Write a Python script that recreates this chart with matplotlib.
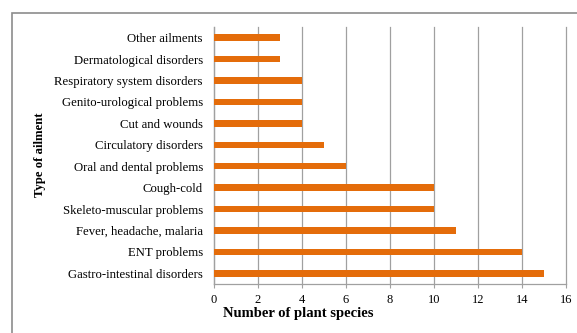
import matplotlib.pyplot as plt
from matplotlib.patches import Rectangle

# ---------- Data ----------
ailments = ['Gastro-intestinal disorders', 'ENT problems', 'Fever, headache, malaria',
            'Skeleto-muscular problems', 'Cough-cold', 'Oral and dental problems',
            'Circulatory disorders', 'Cut and wounds', 'Genito-urological problems',
            'Respiratory system disorders', 'Dermatological disorders', 'Other ailments']
species = [15, 14, 11, 10, 10, 6, 5, 4, 4, 4, 3, 3]
x_ticks = [0, 2, 4, 6, 8, 10, 12, 14, 16]

plt.rcParams['font.family'] = ['Liberation Serif', 'DejaVu Serif']

fig = plt.figure(figsize=(5.77, 3.33), dpi=100)
ax = fig.add_axes([214 / 577, 1 - 284 / 333, 352 / 577, 257 / 333])

# outer frame
fig.patches.append(Rectangle((12 / 577, -0.2), 1.2, 1 - 13 / 333 + 0.2,
                             transform=fig.transFigure, fill=False,
                             edgecolor='#8c8c8c', linewidth=1.2))

ax.barh(range(len(ailments)), species, height=0.3, color='#E46C0A', zorder=3)

ax.set_xlim(0, 16)
ax.set_ylim(-0.5, len(ailments) - 0.5)
ax.set_xticks(x_ticks)
ax.set_yticks(range(len(ailments)))
ax.set_yticklabels(ailments)
ax.tick_params(axis='y', length=0, pad=8, labelsize=9.2)
ax.tick_params(axis='x', length=3, color='#a0a0a0', labelsize=9, pad=4)

ax.grid(axis='x', color='#a0a0a0', linewidth=0.9, zorder=0)
for gl in ax.get_xgridlines():
    gl.set_clip_on(False)
for side in ['top', 'right']:
    ax.spines[side].set_visible(False)
for side in ['left', 'bottom']:
    ax.spines[side].set_color('#a0a0a0')
    ax.spines[side].set_linewidth(0.9)

fig.text(298 / 577, 1 - 313 / 333, 'Number of plant species', fontweight='bold',
         fontsize=10.5, ha='center', va='center')
fig.text(40 / 577, 1 - 155 / 333, 'Type of ailment', rotation=90, fontweight='bold',
         fontsize=9.2, ha='center', va='center')

fig.savefig('out.png', dpi=100)
